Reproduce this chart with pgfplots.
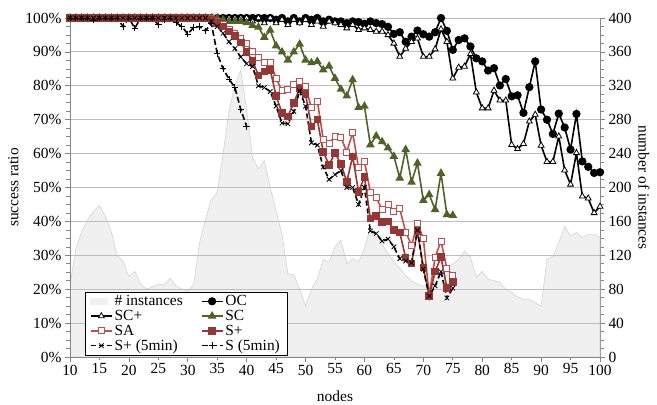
\documentclass[border=0pt]{standalone}
\usepackage{fontspec}
\setmainfont{Liberation Serif}
\usepackage{pgfplots}
\pgfplotsset{compat=1.18}
\definecolor{areafill}{RGB}{240,240,240}
\definecolor{areaedge}{RGB}{212,212,212}
\definecolor{gridc}{RGB}{190,190,190}
\definecolor{axc}{RGB}{134,134,134}
\definecolor{scgreen}{RGB}{79,98,40}
\definecolor{sared}{RGB}{192,80,77}
\definecolor{spred}{RGB}{149,55,53}
\begin{document}
\begin{tikzpicture}
\pgfplotsset{
  base/.style={
    scale only axis, width=530bp, height=339bp,
    xmin=10, xmax=100,
    /pgf/number format/assume math mode=true,
    tick label style={font=\fontsize{15.5}{17}\selectfont},
    label style={font=\fontsize{15.5}{17}\selectfont},
    tick align=outside,
    major tick length=5bp, minor tick length=3.5bp,
    every tick/.style={axc, line width=0.6bp},
    axis line style={axc, line width=0.8bp},
  }
}
% secondary axis: number of instances
\begin{axis}[base,
  ymin=0, ymax=400,
  axis y line*=right, axis x line=none,
  ytick={0,40,...,400}, minor y tick num=3,
  ylabel={number of instances},
  ylabel style={rotate=180},
]
\addplot[fill=areafill, draw=areaedge, line width=0.6bp] coordinates {
(10,85)(11,128)(12,148)(13,162)(14,172)(15,179)(16,166)(17,148)(18,120)(19,113)
(20,95)(21,101)(22,86)(23,80)(24,83)(25,86)(26,85)(27,93)(28,84)(29,80)
(30,78)(31,85)(32,135)(33,162)(34,186)(35,194)(36,240)(37,290)(38,320)(39,338)
(40,292)(41,235)(42,222)(43,232)(44,200)(45,172)(46,145)(47,98)(48,97)(49,80)
(50,60)(51,80)(52,92)(53,115)(54,112)(55,130)(56,138)(57,110)(58,116)(59,112)
(60,128)(61,153)(62,145)(63,133)(64,122)(65,112)(66,105)(67,96)(68,90)(69,86)
(70,83)(71,86)(72,95)(73,100)(74,105)(75,110)(76,115)(77,125)(78,118)(79,94)
(80,101)(81,92)(82,90)(83,88)(84,80)(85,76)(86,71)(87,68)(88,68)(89,64)
(90,60)(91,115)(92,119)(93,135)(94,154)(95,143)(96,147)(97,141)(98,145)(99,145)(100,141)
} \closedcycle;
\end{axis}
% primary axis: success ratio
\begin{axis}[base,
  ymin=0, ymax=100,
  axis y line*=left, axis x line*=bottom,
  ytick={0,10,...,100}, minor y tick num=3,
  yticklabels={0\%,10\%,20\%,30\%,40\%,50\%,60\%,70\%,80\%,90\%,100\%},
  xtick={10,20,...,100},
  extra x ticks={15,25,...,95},
  extra x tick style={major tick length=3bp},
  ymajorgrids, grid style={gridc, line width=0.9bp},
  xlabel={nodes}, ylabel={success ratio},
  every axis plot/.append style={line width=1.6bp},
  legend image code/.code={\draw[mark repeat=2,mark phase=2] plot coordinates {(0bp,0bp)(10.5bp,0bp)(21bp,0bp)};},
  legend columns=2,
  legend style={at={(0.028,0.006)}, anchor=south west, draw=black, fill=white,
    font=\fontsize{15.5}{16.5}\selectfont, row sep=-1bp, inner xsep=5bp, inner ysep=1bp,
    /tikz/every even column/.append style={column sep=16bp},
    /tikz/every odd column/.append style={column sep=0bp}},
  legend cell align=left,
]
\addlegendimage{area legend, fill=areafill, draw=areafill, line width=0bp}
\addlegendentry{\# instances}
\addplot[black, mark=*, mark size=3.3bp] coordinates {
(10,100)(11,100)(12,100)(13,100)(14,100)(15,100)(16,100)(17,100)(18,100)(19,100)
(20,100)(21,100)(22,100)(23,100)(24,100)(25,100)(26,100)(27,100)(28,100)(29,100)
(30,100)(31,100)(32,100)(33,100)(34,100)(35,100)(36,100)(37,100)(38,100)(39,100)
(40,100)(41,100)(42,100)(43,100)(44,100)(45,99.5)(46,100)(47,99)(48,100)(49,99)
(50,100)(51,99.5)(52,100)(53,99)(54,99.5)(55,99)(56,99)(57,98.5)(58,99)(59,98.8)
(60,98.3)(61,99)(62,98.5)(63,98.2)(64,97.4)(65,95.3)(66,95.8)(67,93)(68,94.5)(69,96.3)
(70,95.2)(71,94.5)(72,95.8)(73,100)(74,96.2)(75,90.6)(76,93.5)(77,94)(78,91.6)(79,88.1)
(80,87.2)(81,84.5)(82,85.2)(83,80.1)(84,82)(85,76.9)(86,77.2)(87,72)(88,79.6)(89,87.2)
(90,73)(91,70)(92,65.8)(93,71.8)(94,67.7)(95,61.2)(96,71.7)(97,57.7)(98,56.1)(99,54.3)(100,54.5)
};
\addlegendentry{OC}
\addplot[black, mark=triangle*, mark size=3.4bp, mark options={fill=white, line width=0.8bp}] coordinates {
(10,100)(11,100)(12,100)(13,100)(14,100)(15,100)(16,100)(17,100)(18,100)(19,100)
(20,100)(21,100)(22,100)(23,100)(24,100)(25,100)(26,100)(27,100)(28,100)(29,100)
(30,100)(31,100)(32,100)(33,100)(34,100)(35,100)(36,100)(37,100)(38,100)(39,100)
(40,100)(41,99)(42,100)(43,98.5)(44,100)(45,98.5)(46,99.5)(47,98)(48,99.5)(49,98.5)
(50,99.5)(51,98)(52,99)(53,97.5)(54,99)(55,98.5)(56,98)(57,97)(58,98)(59,96.5)
(60,97)(61,96.5)(62,96)(63,96)(64,95)(65,92.5)(66,88.6)(67,91)(68,93)(69,94)
(70,88.6)(71,88.6)(72,90.8)(73,96.7)(74,93)(75,82.2)(76,85.4)(77,85.7)(78,89.4)(79,78.1)
(80,73.4)(81,73.4)(82,78.6)(83,75.7)(84,75.7)(85,62.6)(86,61.4)(87,62.9)(88,69.5)(89,71.5)
(90,62.4)(91,57.6)(92,57.6)(93,65.1)(94,55.1)(95,50.9)(96,60.2)(97,47.4)(98,46.8)(99,42.5)(100,44.4)
};
\addlegendentry{SC+}
\addplot[scgreen, mark=triangle*, mark size=3.4bp] coordinates {
(10,100)(11,100)(12,100)(13,100)(14,100)(15,100)(16,100)(17,100)(18,100)(19,100)
(20,100)(21,100)(22,100)(23,100)(24,100)(25,100)(26,100)(27,100)(28,100)(29,100)
(30,100)(31,100)(32,100)(33,100)(34,100)(35,100)(36,99.5)(37,99)(38,99)(39,99)
(40,98.6)(41,97.8)(42,97.3)(43,94.3)(44,96.4)(45,91.8)(46,90)(47,87.6)(48,90)(49,92.3)
(50,87.6)(51,86.8)(52,87.2)(53,84.7)(54,85.8)(55,82.2)(56,79)(57,77)(58,81.8)(59,73.6)
(60,74)(61,62.6)(62,65.2)(63,63.5)(64,61.7)(65,59.2)(66,52.8)(67,61.2)(68,51.6)(69,57.2)
(70,46.2)(71,47.9)(72,43.5)(73,54.2)(74,42)(75,41.8)
};
\addlegendentry{SC}
\addplot[sared, mark=square*, mark size=3bp, mark options={fill=white, line width=0.8bp}] coordinates {
(10,100)(11,100)(12,100)(13,100)(14,100)(15,100)(16,100)(17,100)(18,100)(19,100)
(20,100)(21,100)(22,100)(23,100)(24,100)(25,100)(26,100)(27,100)(28,100)(29,100)
(30,100)(31,100)(32,100)(33,100)(34,100)(35,99)(36,98)(37,96.5)(38,95.5)(39,94)
(40,92.5)(41,90)(42,88.5)(43,87)(44,87)(45,82.2)(46,78.5)(47,79)(48,80.5)(49,81.3)
(50,79.8)(51,73.5)(52,75.5)(53,64.3)(54,63)(55,65)(56,64.8)(57,60.5)(58,66.2)(59,55.8)
(60,57.8)(61,48.7)(62,47.1)(63,43.5)(64,45)(65,43)(66,43.7)(67,36.9)(68,32.9)(69,39.4)
(70,35)(71,18)(72,29.4)(73,34.2)(74,26.1)(75,24)
};
\addlegendentry{SA}
\addplot[spred, mark=square*, mark size=3bp] coordinates {
(10,100)(11,100)(12,100)(13,100)(14,100)(15,100)(16,100)(17,100)(18,100)(19,100)
(20,100)(21,100)(22,100)(23,100)(24,100)(25,100)(26,100)(27,100)(28,100)(29,100)
(30,100)(31,100)(32,100)(33,100)(34,99.5)(35,98.6)(36,97.5)(37,96)(38,94.7)(39,92.8)
(40,90)(41,87.4)(42,83)(43,84.2)(44,84.7)(45,77)(46,72)(47,71)(48,75)(49,79.2)
(50,77.5)(51,68)(52,70)(53,60.5)(54,56.7)(55,60.2)(56,57)(57,51.7)(58,59.2)(59,48.7)
(60,53.1)(61,40.8)(62,41.6)(63,39.8)(64,40)(65,37.4)(66,36.7)(67,29.3)(68,27.6)(69,37.2)
(70,26.4)(71,18)(72,25.2)(73,29.5)(74,20.4)(75,22.2)
};
\addlegendentry{S+}
\addplot[black, dash pattern=on 5bp off 3bp, mark=x, mark size=3.2bp, mark options={solid, line width=0.8bp}] coordinates {
(10,100)(11,100)(12,100)(13,100)(14,100)(15,100)(16,100)(17,100)(18,100)(19,100)
(20,100)(21,100)(22,100)(23,100)(24,100)(25,100)(26,100)(27,100)(28,100)(29,100)
(30,100)(31,100)(32,100)(33,100)(34,99)(35,97.5)(36,95.5)(37,93)(38,91)(39,88.5)
(40,86.5)(41,85.7)(42,80)(43,79.5)(44,78.3)(45,74)(46,69)(47,68.8)(48,72.4)(49,78.5)
(50,74)(51,63.2)(52,62.5)(53,56)(54,52.4)(55,53.8)(56,55)(57,50)(58,50)(59,45)
(60,50)(61,37.2)(62,36.4)(63,34.2)(64,34.8)(65,32.5)(66,29)(67,28.3)(68,27.8)(69,37.4)
(70,25.9)(71,18)(72,21)(73,25.2)(74,17.4)(75,20.3)
};
\addlegendentry{S+ (5min)}
\addplot[black, dash pattern=on 6bp off 3bp, mark=+, mark size=3.2bp, mark options={solid, line width=0.8bp}] coordinates {
(10,100)(11,100)(12,100)(13,100)(14,99.4)(15,100)(16,100)(17,100)(18,100)(19,97.5)
(20,100)(21,97)(22,100)(23,100)(24,100)(25,98)(26,99.5)(27,100)(28,98.6)(29,97.5)
(30,95.3)(31,97.2)(32,97.5)(33,96.2)(34,98.4)(35,89.5)(36,85)(37,82)(38,79.5)(39,73)
(40,68)
};
\addlegendentry{S (5min)}
\end{axis}
\pgfresetboundingbox
\path (-70bp,-48bp) rectangle (587bp,357bp);
\end{tikzpicture}
\end{document}
